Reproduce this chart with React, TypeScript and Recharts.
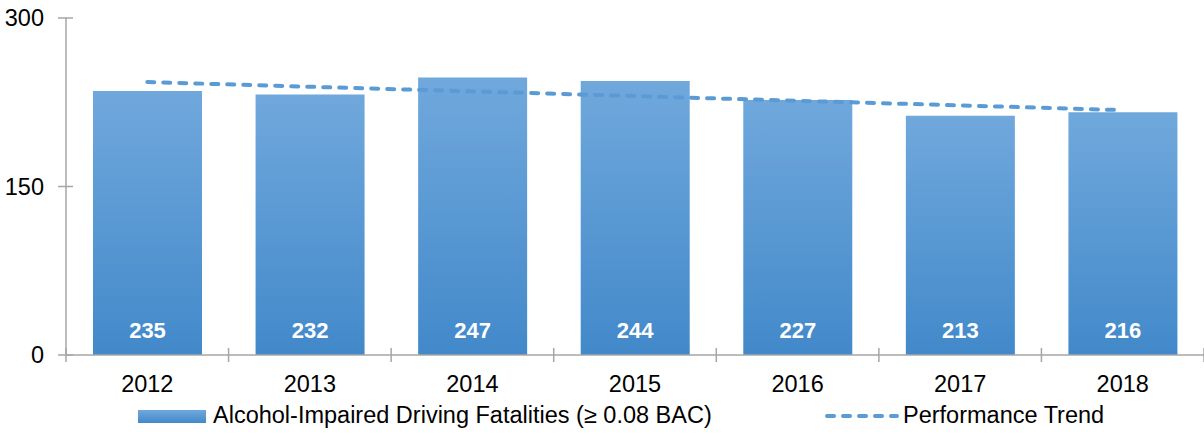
import { ComposedChart, Bar, Line, XAxis, YAxis, Legend, LabelList } from 'recharts';

const years = ['2012', '2013', '2014', '2015', '2016', '2017', '2018'];
const fatalities = [235, 232, 247, 244, 227, 213, 216];
const trend = [243, 238.8, 234.7, 230.5, 226.3, 222.2, 218];
const yTicks = [0, 150, 300];

const data = years.map((year, i) => ({ year, fatalities: fatalities[i], trend: trend[i] }));

const axisColor = '#A6A6A6';
const font = '"Liberation Sans", Arial, sans-serif';

const XTick = (props: any) => {
  const { x, y, payload, index } = props;
  const half = payload.offset || 0;
  return (
    <g>
      <line x1={x - half} x2={x - half} y1={y - 7} y2={y + 7} stroke={axisColor} strokeWidth={1.5} />
      {index === years.length - 1 && (
        <line x1={x + half} x2={x + half} y1={y - 7} y2={y + 7} stroke={axisColor} strokeWidth={1.5} />
      )}
      <text x={x} y={y + 37} textAnchor="middle" fontSize={23.5} fill="#000" fontFamily={font}>
        {payload.value}
      </text>
    </g>
  );
};

const YTick = (props: any) => {
  const { x, y, payload } = props;
  return (
    <g>
      <line x1={x - 8} x2={x + 7} y1={y} y2={y} stroke={axisColor} strokeWidth={1.5} />
      <text x={x - 22} y={y + 8} textAnchor="end" fontSize={23.5} fill="#000" fontFamily={font}>
        {payload.value}
      </text>
    </g>
  );
};

const BarValue = (props: any) => {
  const { x, y, width, height, value } = props;
  return (
    <text
      x={x + width / 2}
      y={y + height - 17}
      textAnchor="middle"
      fontSize={22}
      fontWeight="bold"
      fill="#fff"
      fontFamily={font}
    >
      {value}
    </text>
  );
};

const LegendContent = () => (
  <div style={{ position: 'relative', width: 1204, height: 40, fontFamily: font, fontSize: 23.5, color: '#000' }}>
    <svg width={68} height={13} style={{ position: 'absolute', left: 138, top: 15 }}>
      <rect x={0} y={0} width={68} height={13} fill="url(#legendGrad)" />
    </svg>
    <span style={{ position: 'absolute', left: 213, top: 7, lineHeight: '27px', whiteSpace: 'nowrap' }}>
      Alcohol-Impaired Driving Fatalities (≥ 0.08 BAC)
    </span>
    <svg width={74} height={10} style={{ position: 'absolute', left: 825, top: 16 }}>
      <line x1={2} x2={72} y1={5} y2={5} stroke="#5B9BD5" strokeWidth={4} strokeDasharray="7 9" strokeLinecap="round" />
    </svg>
    <span style={{ position: 'absolute', left: 903, top: 7, lineHeight: '27px', whiteSpace: 'nowrap' }}>
      Performance Trend
    </span>
  </div>
);

export default function App() {
  return (
    <div style={{ width: 1204, height: 435, background: '#fff' }}>
      <style>{'body{margin:0;}'}</style>
      <svg width={0} height={0} style={{ position: 'absolute' }}>
        <defs>
          <linearGradient id="legendGrad" x1="0" y1="0" x2="0" y2="1">
            <stop offset="0%" stopColor="#70A8DC" />
            <stop offset="100%" stopColor="#4289CA" />
          </linearGradient>
        </defs>
      </svg>
      <ComposedChart width={1204} height={435} data={data} margin={{ top: 18, right: 0, left: 0, bottom: 0 }}>
        <defs>
          <linearGradient id="barGrad" x1="0" y1="0" x2="0" y2="1">
            <stop offset="0%" stopColor="#70A8DC" />
            <stop offset="100%" stopColor="#4289CA" />
          </linearGradient>
        </defs>
        <XAxis
          dataKey="year"
          height={40}
          tickSize={0}
          tickMargin={0}
          tick={<XTick />}
          axisLine={{ stroke: axisColor, strokeWidth: 1.5 }}
          interval={0}
        />
        <YAxis
          width={66}
          domain={[0, 300]}
          ticks={yTicks}
          tickSize={0}
          tickMargin={0}
          tick={<YTick />}
          axisLine={{ stroke: axisColor, strokeWidth: 1.5 }}
        />
        <Legend verticalAlign="bottom" height={40} wrapperStyle={{ left: 0, bottom: 0, width: 1204 }} content={<LegendContent />} />
        <Bar dataKey="fatalities" fill="url(#barGrad)" barSize={109} isAnimationActive={false}>
          <LabelList dataKey="fatalities" content={<BarValue />} />
        </Bar>
        <Line
          dataKey="trend"
          stroke="#5B9BD5"
          strokeWidth={4}
          strokeDasharray="7 9"
          strokeLinecap="round"
          dot={false}
          activeDot={false}
          isAnimationActive={false}
        />
      </ComposedChart>
    </div>
  );
}
